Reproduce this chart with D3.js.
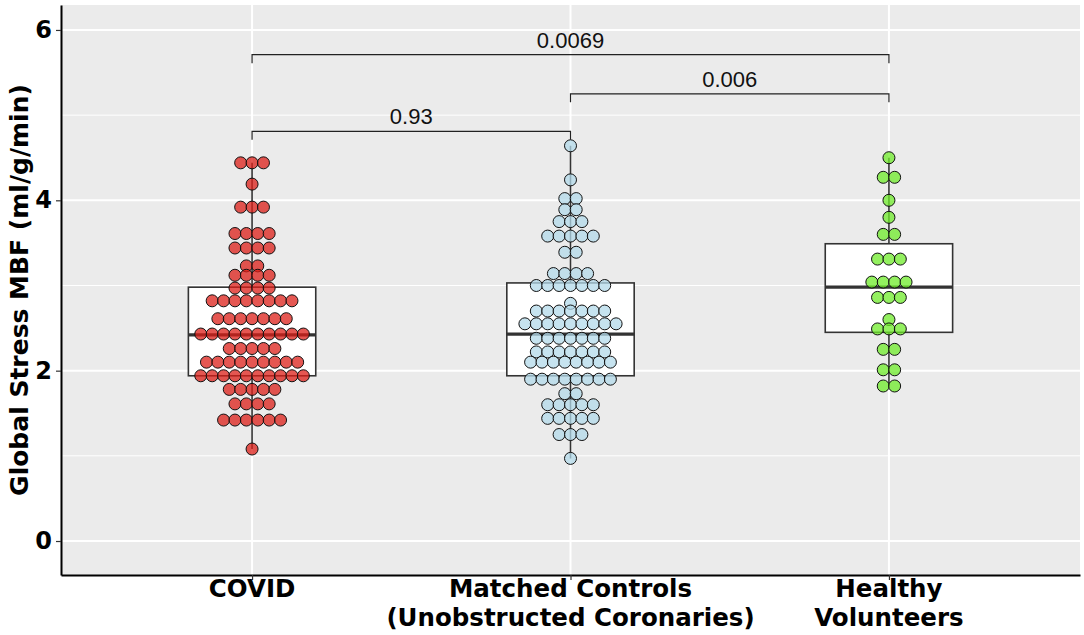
<!DOCTYPE html>
<html>
<head>
<meta charset="utf-8">
<script src="https://cdn.jsdelivr.net/npm/d3@7"></script>
<style>
  body { margin: 0; background: #fff; }
  svg text { font-family: "DejaVu Sans", sans-serif; }
</style>
</head>
<body>
<div id="viz"></div>
<script>
// groups along the x axis
var categories = ["COVID", "Matched Controls", "Healthy Volunteers"];
var categoryLines = [["COVID"], ["Matched Controls", "(Unobstructed Coronaries)"], ["Healthy", "Volunteers"]];

// dot rows: [value, count]
var covidRows = [[4.44,3],[4.19,1],[3.92,3],[3.61,4],[3.44,4],[3.23,2],[3.12,4],[2.97,4],[2.82,8],[2.61,7],
  [2.43,10],[2.26,5],[2.10,9],[1.94,10],[1.78,5],[1.61,4],[1.42,6],[1.08,1]];
var matchedRows = [[4.64,1],[4.24,1],[4.02,2],[3.89,2],[3.75,3],[3.58,5],[3.39,2],[3.14,4],[3.00,7],[2.79,1],
  [2.70,7],[2.55,9],[2.38,7],[2.22,7],[2.10,8],[1.90,8],[1.73,2],[1.60,5],[1.44,5],[1.25,3],[0.97,1]];
var healthyRows = [[4.50,1],[4.27,2],[4.00,1],[3.80,1],[3.60,2],[3.31,3],[3.04,4],[2.86,3],[2.60,1],[2.49,3],
  [2.25,2],[2.01,2],[1.82,2]];

// box stats: [lower whisker, q1, median, q3, upper whisker]
var boxStats = [[1.08,1.94,2.42,2.98,4.44],[0.97,1.94,2.43,3.03,4.64],[1.82,2.45,2.98,3.49,4.50]];

// p-value brackets: [from group, to group, height, label]
var brackets = [[0,2,5.71,"0.0069"],[1,2,5.25,"0.006"],[0,1,4.81,"0.93"]];

var yTicks = [0,2,4,6];
var yMinor = [1,3,5];

var fills = ["#DC1F18", "#B3D9EA", "#6FEB2A"];
var allRows = [covidRows, matchedRows, healthyRows];

var W = 1084, H = 635;
var pLeft = 61, pRight = 1080, pTop = 5, pBottom = 575;

var svg = d3.select("#viz").append("svg")
  .attr("width", W).attr("height", H);

var x = d3.scalePoint().domain(categories).range([pLeft, pRight]).padding(0.6);
var y = d3.scaleLinear().domain([-0.399, 6.293]).range([pBottom, pTop]);

// panel
svg.append("rect")
  .attr("x", pLeft).attr("y", pTop)
  .attr("width", pRight-pLeft).attr("height", pBottom-pTop)
  .attr("fill", "#EBEBEB");

svg.selectAll(".minor").data(yMinor).enter().append("line")
  .attr("x1", pLeft).attr("x2", pRight)
  .attr("y1", d => y(d)).attr("y2", d => y(d))
  .attr("stroke", "#fff").attr("stroke-width", 1);

svg.selectAll(".major").data(yTicks).enter().append("line")
  .attr("x1", pLeft).attr("x2", pRight)
  .attr("y1", d => y(d)).attr("y2", d => y(d))
  .attr("stroke", "#fff").attr("stroke-width", 2);

svg.selectAll(".vgrid").data(categories).enter().append("line")
  .attr("x1", d => x(d)).attr("x2", d => x(d))
  .attr("y1", pTop).attr("y2", pBottom)
  .attr("stroke", "#fff").attr("stroke-width", 2);

// boxes
var bw = x.step() * 0.4;
categories.forEach(function(c, i) {
  var s = boxStats[i], cx = x(c);
  svg.append("line")
    .attr("x1", cx).attr("x2", cx)
    .attr("y1", y(s[0])).attr("y2", y(s[4]))
    .attr("stroke", "#333").attr("stroke-width", 1.6);
  svg.append("rect")
    .attr("x", cx - bw/2).attr("y", y(s[3]))
    .attr("width", bw).attr("height", y(s[1]) - y(s[3]))
    .attr("fill", "#fff").attr("stroke", "#333").attr("stroke-width", 1.6);
  svg.append("line")
    .attr("x1", cx - bw/2).attr("x2", cx + bw/2)
    .attr("y1", y(s[2])).attr("y2", y(s[2]))
    .attr("stroke", "#333").attr("stroke-width", 3.2);
});

// dots
var r = 6, gap = 11.4;
categories.forEach(function(c, i) {
  var cx = x(c);
  var pts = [];
  allRows[i].forEach(function(row) {
    for (var k = 0; k < row[1]; k++) {
      pts.push({ v: row[0], off: (k - (row[1]-1)/2) * gap });
    }
  });
  svg.append("g").selectAll("circle").data(pts).enter().append("circle")
    .attr("cx", d => cx + d.off)
    .attr("cy", d => y(d.v))
    .attr("r", r)
    .attr("fill", fills[i]).attr("fill-opacity", 0.75)
    .attr("stroke", "#111").attr("stroke-width", 1);
});

// brackets
var tickLen = 0.1;
brackets.forEach(function(b) {
  var x1 = x(categories[b[0]]), x2 = x(categories[b[1]]);
  var yy = y(b[2]), yd = y(b[2] - tickLen);
  svg.append("path")
    .attr("d", "M"+x1+" "+yd+" L"+x1+" "+yy+" L"+x2+" "+yy+" L"+x2+" "+yd)
    .attr("fill", "none").attr("stroke", "#222").attr("stroke-width", 1.2);
  svg.append("text")
    .attr("x", (x1+x2)/2).attr("y", yy - 7)
    .attr("text-anchor", "middle")
    .style("font-family", "'Liberation Sans', Arial, sans-serif")
    .style("font-size", "22px")
    .attr("fill", "#111")
    .text(b[3]);
});

// axes
var yAxis = svg.append("g")
  .attr("transform", "translate(" + pLeft + ",0)")
  .call(d3.axisLeft(y).tickValues(yTicks).tickFormat(d3.format("d"))
    .tickSize(5).tickSizeOuter(0).tickPadding(4));
var xAxis = svg.append("g")
  .attr("transform", "translate(0," + pBottom + ")")
  .call(d3.axisBottom(x).tickSize(5).tickSizeOuter(0).tickFormat(""));

[yAxis, xAxis].forEach(function(g) {
  g.select(".domain").attr("stroke", "#000").attr("stroke-width", 2);
  g.selectAll(".tick line").attr("stroke", "#333").attr("stroke-width", 1.2);
});
yAxis.selectAll(".tick text")
  .style("font-family", "'DejaVu Sans', sans-serif")
  .style("font-size", "24px").style("font-weight", "bold").attr("fill", "#000");

// x category labels (multi-line)
categories.forEach(function(c, i) {
  var t = svg.append("text")
    .attr("x", x(c)).attr("y", 597)
    .attr("text-anchor", "middle")
    .style("font-size", "24.5px").style("font-weight", "bold")
    .attr("fill", "#000");
  categoryLines[i].forEach(function(line, j) {
    t.append("tspan").attr("x", x(c)).attr("dy", j === 0 ? 0 : 29).text(line);
  });
});

// y title
svg.append("text")
  .attr("transform", "translate(28," + ((pTop+pBottom)/2) + ") rotate(-90)")
  .attr("text-anchor", "middle")
  .style("font-size", "25px").style("font-weight", "bold")
  .attr("fill", "#000")
  .text("Global Stress MBF (ml/g/min)");
</script>
</body>
</html>
